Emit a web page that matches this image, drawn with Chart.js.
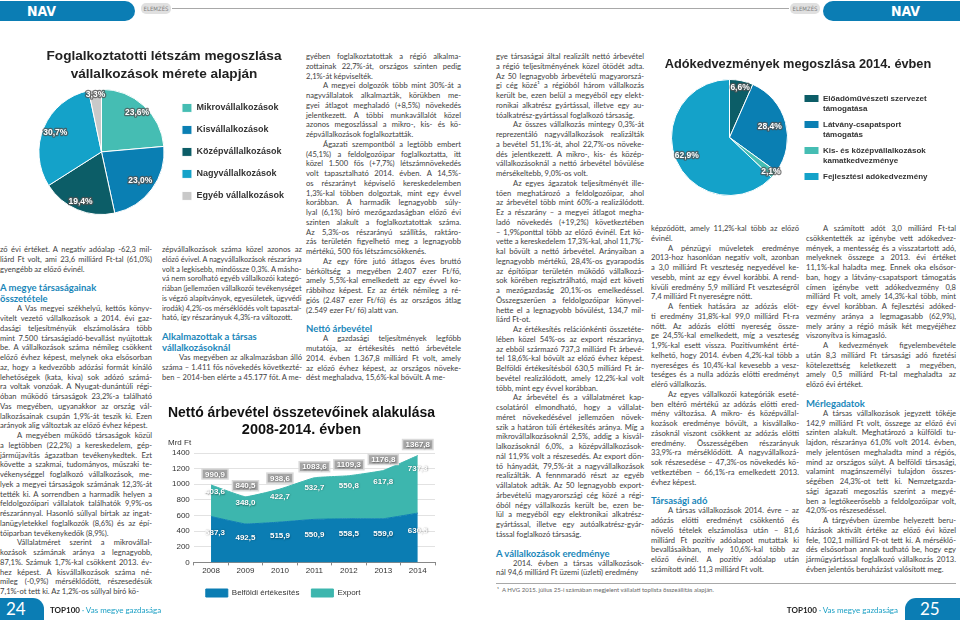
<!DOCTYPE html>
<html lang="hu">
<head>
<meta charset="utf-8">
<title>NAV elemzés – Vas megye gazdasága</title>
<script src="https://cdn.jsdelivr.net/npm/chart.js@4.4.1/dist/chart.umd.min.js"></script>
<style>
html, body { margin: 0; padding: 0; background: #fff; }
body { width: 960px; height: 620px; position: relative; overflow: hidden; font-family: Lato, "Open Sans", sans-serif; color: #3e3e3e; }
.box { position: absolute; }
.tab { position: absolute; background: #0b7db4; color: #fff; font-family: "DejaVu Sans Condensed", "DejaVu Sans", sans-serif; font-weight: bold; }
.tabL { left: 0; top: 1px; width: 135px; height: 20px; border-radius: 0 10px 10px 0; font-size: 14px; line-height: 20px; padding-left: 27px; box-sizing: border-box; }
.tabR { left: 823px; top: 1px; width: 137px; height: 20px; border-radius: 10px 0 0 10px; font-size: 14px; line-height: 20px; padding-left: 68px; box-sizing: border-box; }
.pill { position: absolute; top: 3px; width: 30px; height: 11px; border-radius: 5px; background: #e0e0e0; color: #808080; font: 6px "DejaVu Sans Condensed", sans-serif; line-height: 11px; text-align: center; }
.hline { position: absolute; height: 1px; background: #a8a8a8; }
.col { position: absolute; font-size: 7.6px; line-height: 9.75px; }
.ln { white-space: nowrap; height: 9.75px; }
.ln.just { white-space: normal; text-align: justify; text-align-last: justify; }
.ln.ind { padding-left: 17px; }
.ln.hd { font-weight: 700; color: #1a87ba; font-size: 9.5px; line-height: 11px; height: 11px; }
.ln.gap { margin-top: 8px; }
.foot { position: absolute; top: 605px; font-size: 8px; line-height: 10px; white-space: nowrap; }
.foot b { color: #222; }
.foot i { font-style: normal; color: #1a9fc4; }
.pageno { position: absolute; top: 598px; height: 22px; background: #0b7db4; color: #fff; font-size: 17px; line-height: 22px; }
.note { position: absolute; left: 497px; top: 586px; font-size: 6px; color: #666; white-space: nowrap; }
</style>
</head>
<body>

<div class="tab tabL">NAV</div>
<div class="pill" style="left:141px">ELEMZÉS</div>
<div class="hline" style="left:172px; top:8px; width:617px"></div>
<div class="pill" style="left:790px">ELEMZÉS</div>
<div class="tab tabR">NAV</div>

<div class="box" style="left:20px; top:42px; width:280px; height:198px"><canvas id="letszamChart"></canvas></div>
<div class="box" style="left:160px; top:395px; width:290px; height:212px"><canvas id="arbevetelChart"></canvas></div>
<div class="box" style="left:661px; top:50px; width:274px; height:160px"><canvas id="kedvezmenyChart"></canvas></div>

<div class="hline" style="left:496px; top:583px; width:460px"></div>
<div class="note">¹&nbsp; A HVG 2015. július 25-i számában megjelent vállalati toplista összeállítás alapján.</div>

<div class="pageno" style="left:0; width:44px; border-radius:0 11px 0 0; padding-left:6px; box-sizing:border-box">24</div>
<div class="foot" style="left:50px"><b>TOP100</b> <i>· Vas megye gazdasága</i></div>
<div class="foot" style="right:62px"><b>TOP100</b> <i>· Vas megye gazdasága</i></div>
<div class="pageno" style="left:905px; width:55px; border-radius:11px 0 0 0; padding-left:15px; box-sizing:border-box">25</div>

<script>
// foglalkoztatotti létszám
const meretKategoriak = ['Mikrovállalkozások', 'Kisvállalkozások', 'Középvállalkozások', 'Nagyvállalkozások', 'Egyéb vállalkozások'];
const letszamArany = [23.6, 23.0, 19.4, 30.7, 3.3];
const letszamSzinek = ['#45bdb3', '#0a7fb3', '#0c5d67', '#14a2c9', '#c9c9c9'];

// nettó árbevétel, Mrd Ft
const evek = ['2008', '2009', '2010', '2011', '2012', '2013', '2014'];
const belfoldi = [587.3, 492.5, 515.9, 550.9, 558.5, 559.0, 630.5];
const exportArbevetel = [403.6, 348.0, 422.7, 532.7, 550.8, 617.8, 737.3];
const osszesen = [990.9, 840.5, 938.6, 1083.6, 1109.3, 1176.8, 1367.8];
const yMax = 1400, yLepes = 200;

// adókedvezmények 2014
const kedvezmenyTipusok = [['Előadóművészeti szervezet', 'támogatása'], ['Látvány-csapatsport', 'támogatás'], ['Kis- és középvállalkozások', 'kamatkedvezménye'], 'Fejlesztési adókedvezmény'];
const kedvezmenyArany = [6.6, 28.4, 2.1, 62.9];
const kedvezmenySzinek = ['#0c5d67', '#0a7fb3', '#45bdb3', '#14a2c9'];

const fmt = v => v.toFixed(1).replace('.', ',');

Chart.defaults.font.family = '"Liberation Sans", Arial, sans-serif';
Chart.defaults.color = '#333';

const pieLabels = {
    id: 'pieLabels',
    afterDatasetsDraw(chart, args, opts) {
        const ctx = chart.ctx;
        const meta = chart.getDatasetMeta(0);
        const data = chart.data.datasets[0].data;
        ctx.save();
        ctx.font = 'bold ' + opts.size + 'px "Liberation Sans", Arial, sans-serif';
        ctx.textAlign = 'center'; ctx.textBaseline = 'middle'; ctx.lineJoin = 'round';
        meta.data.forEach((arc, i) => {
            const p = arc.getProps(['x', 'y', 'startAngle', 'endAngle', 'outerRadius'], true);
            const mid = (p.startAngle + p.endAngle) / 2;
            const f = opts.radius[i];
            const x = p.x + Math.cos(mid) * p.outerRadius * f;
            const y = p.y + Math.sin(mid) * p.outerRadius * f;
            const txt = fmt(data[i]) + '%';
            ctx.lineWidth = 2.5; ctx.strokeStyle = 'rgba(80,80,80,0.75)';
            ctx.strokeText(txt, x, y);
            ctx.fillStyle = '#fff'; ctx.fillText(txt, x, y);
        });
        ctx.restore();
    }
};

const areaLabels = {
    id: 'areaLabels',
    afterDatasetsDraw(chart) {
        const ctx = chart.ctx, xs = chart.scales.x, ys = chart.scales.y;
        ctx.save();
        ctx.font = 'bold 8px "Liberation Sans", Arial, sans-serif';
        ctx.textAlign = 'center'; ctx.textBaseline = 'middle';
        const shadowText = (t, x, y) => {
            ctx.shadowColor = 'rgba(0,0,0,0.45)'; ctx.shadowBlur = 1.5; ctx.shadowOffsetX = 0.5; ctx.shadowOffsetY = 0.5;
            ctx.fillStyle = '#fff'; ctx.fillText(t, x, y);
            ctx.shadowColor = 'transparent';
        };
        evek.forEach((ev, i) => {
            const px = xs.getPixelForValue(i) + (i === 0 ? 4 : 0);
            shadowText(fmt(belfoldi[i]), px, ys.getPixelForValue(belfoldi[i] * 0.65));
            shadowText(fmt(exportArbevetel[i]), px, ys.getPixelForValue(belfoldi[i] + exportArbevetel[i] * 0.77));
            const t = fmt(osszesen[i]);
            const ty = ys.getPixelForValue(osszesen[i]) - 11;
            const w = ctx.measureText(t).width + 6;
            ctx.fillStyle = '#a6a6a6'; ctx.fillRect(px - w / 2, ty - 5, w, 10);
            ctx.strokeStyle = '#dadada'; ctx.lineWidth = 1.5; ctx.strokeRect(px - w / 2, ty - 5, w, 10);
            shadowText(t, px, ty + 0.5);
        });
        ctx.restore();
    }
};

new Chart(document.getElementById('letszamChart'), {
    type: 'pie',
    data: { labels: meretKategoriak, datasets: [{ data: letszamArany, backgroundColor: letszamSzinek, borderColor: '#fff', borderWidth: 1 }] },
    options: {
        responsive: true, maintainAspectRatio: false, animation: false,
        layout: { padding: { left: 14, right: 6, top: 0, bottom: 25 } },
        plugins: {
            title: { display: true, text: ['Foglalkoztatotti létszám megoszlása', 'vállalkozások mérete alapján'], color: '#222',
                font: { size: 13.6, weight: 'bold', lineHeight: 1.28 }, padding: { top: 6, bottom: 6 } },
            legend: { position: 'right', fullSize: false,
                labels: { boxWidth: 10, boxHeight: 9, padding: 13, color: '#333', font: { size: 9, weight: 'bold' } } },
            tooltip: { enabled: false },
            pieLabels: { size: 8.5, radius: [0.84, 0.77, 0.87, 0.8, 0.92] }
        }
    },
    plugins: [pieLabels]
});

new Chart(document.getElementById('arbevetelChart'), {
    type: 'line',
    data: {
        labels: evek,
        datasets: [
            { label: 'Belföldi értékesítés', data: belfoldi, backgroundColor: '#0b7db3', borderColor: '#0b7db3', borderWidth: 1, fill: 'origin', pointRadius: 0, tension: 0.1 },
            { label: 'Export', data: exportArbevetel, backgroundColor: '#3db6ae', borderColor: '#3db6ae', borderWidth: 1, fill: '-1', pointRadius: 0, tension: 0.1 }
        ]
    },
    options: {
        responsive: true, maintainAspectRatio: false, animation: false,
        layout: { padding: { left: 8, right: 15, top: 0, bottom: 0 } },
        scales: {
            x: { offset: true, grid: { offset: true, drawOnChartArea: false, tickLength: 3, color: '#888' }, border: { color: '#888' },
                ticks: { font: { size: 8 }, color: '#333', padding: 1 } },
            y: { stacked: true, min: 0, max: yMax,
                ticks: { stepSize: yLepes, font: { size: 8 }, color: '#333', padding: 4, callback: v => String(v) },
                grid: { color: '#e2e2e2', drawTicks: false }, border: { display: false } }
        },
        plugins: {
            title: { display: true, text: ['Nettó árbevétel összetevőinek alakulása', '2008-2014. évben'], color: '#111',
                font: { size: 14.5, weight: 'bold', lineHeight: 1.17 }, padding: { top: 9.5, bottom: 0 } },
            subtitle: { display: true, text: 'Mrd Ft', align: 'start', color: '#333', font: { size: 8 }, padding: { top: 0, bottom: 5 } },
            legend: { position: 'bottom', align: 'start', fullSize: false,
                labels: { boxWidth: 22, boxHeight: 8, padding: 12, color: '#333', font: { size: 8 } } },
            tooltip: { enabled: false }
        }
    },
    plugins: [areaLabels]
});

new Chart(document.getElementById('kedvezmenyChart'), {
    type: 'pie',
    data: { labels: kedvezmenyTipusok, datasets: [{ data: kedvezmenyArany, backgroundColor: kedvezmenySzinek, borderColor: '#fff', borderWidth: 1 }] },
    options: {
        responsive: true, maintainAspectRatio: false, animation: false,
        layout: { padding: { left: 0, right: 0, top: 0, bottom: 14 } },
        plugins: {
            title: { display: true, text: 'Adókedvezmények megoszlása 2014. évben', color: '#222',
                font: { size: 12.75, weight: 'bold', lineHeight: 1.2 }, padding: { top: 7.3, bottom: 6.4 } },
            legend: { position: 'right', fullSize: false,
                labels: { boxWidth: 15, boxHeight: 8, padding: 6, color: '#333', font: { size: 8, weight: 'bold', lineHeight: 1.25 } } },
            tooltip: { enabled: false },
            pieLabels: { size: 8.5, radius: [0.885, 0.72, 0.93, 0.8] }
        }
    },
    plugins: [pieLabels]
});

// szöveghasábok: '>' bekezdés eleje, '#' alcím
const hasab1 = `
ző évi értéket. A negatív adóalap -62,3 mil-
liárd Ft volt, ami 23,6 milliárd Ft-tal (61,0%)
gyengébb az előző évinél.
#A megye társaságainak
#összetétele
>A Vas megyei székhelyű, kettős könyv-
vitelt vezető vállalkozások a 2014. évi gaz-
dasági teljesítményük elszámolására több
mint 7.500 társaságiadó-bevallást nyújtottak
be. A vállalkozások száma némileg csökkent
előző évhez képest, melynek oka elsősorban
az, hogy a kedvezőbb adózási formát kínáló
lehetőségek (kata, kiva) sok adózó számá-
ra voltak vonzóak. A Nyugat-dunántúli régi-
óban működő társaságok 23,2%-a található
Vas megyében, ugyanakkor az ország vál-
lalkozásainak csupán 1,9%-át teszik ki. Ezen
arányok alig változtak az előző évhez képest.
>A megyében működő társaságok közül
a legtöbben (22,2%) a kereskedelem, gép-
járműjavítás ágazatban tevékenykedtek. Ezt
követte a szakmai, tudományos, műszaki te-
vékenységgel foglalkozó vállalkozások, me-
lyek a megyei társaságok számának 12,3%-át
tették ki. A sorrendben a harmadik helyen a
feldolgozóipari vállalatok találhatók 9,9%-os
részaránnyal. Hasonló súllyal bírtak az ingat-
lanügyletekkel foglalkozók (8,6%) és az épí-
tőiparban tevékenykedők (8,9%).
>Vállalatméret szerint a mikrovállal-
kozások számának aránya a legnagyobb,
87,1%. Számuk 1,7%-kal csökkent 2013. év-
hez képest. A kisvállalkozások száma né-
mileg (-0,9%) mérséklődött, részesedésük
7,1%-ot tett ki. Az 1,2%-os súllyal bíró kö-`;

const hasab2 = `
zépvállalkozások száma közel azonos az
előző évivel. A nagyvállalkozások részaránya
volt a legkisebb, mindössze 0,3%. A másho-
vá nem sorolható egyéb vállalkozói kategó-
riában (jellemzően vállalkozói tevékenységet
is végző alapítványok, egyesületek, ügyvédi
irodák) 4,2%-os mérséklődés volt tapasztal-
ható, így részarányuk 4,3%-ra változott.
#Alkalmazottak a társas
#vállalkozásoknál
>Vas megyében az alkalmazásban álló
száma – 1.411 fős növekedés következté-
ben – 2014-ben elérte a 45.177 főt. A me-`;

const hasab3 = `
gyében foglalkoztatottak a régió alkalma-
zottainak 22,7%-át, országos szinten pedig
2,1%-át képviselték.
>A megyei dolgozók több mint 30%-át a
nagyvállalatok alkalmazták, körükben me-
gyei átlagot meghaladó (+8,5%) növekedés
jelentkezett. A többi munkavállalót közel
azonos megoszlással a mikro-, kis- és kö-
zépvállalkozások foglalkoztatták.
>Ágazati szempontból a legtöbb embert
(45,1%) a feldolgozóipar foglalkoztatta, itt
közel 1.500 fős (+7,7%) létszámnövekedés
volt tapasztalható 2014. évben. A 14,5%-
os részarányt képviselő kereskedelemben
1,3%-kal többen dolgoztak, mint egy évvel
korábban. A harmadik legnagyobb súly-
lyal (6,1%) bíró mezőgazdaságban előző évi
szinten alakult a foglalkoztatottak száma.
Az 5,3%-os részarányú szállítás, raktáro-
zás területén figyelhető meg a legnagyobb
mértékű, 500 fős létszámcsökkenés.
>Az egy főre jutó átlagos éves bruttó
bérköltség a megyében 2.407 ezer Ft/fő,
amely 5,5%-kal emelkedett az egy évvel ko-
rábbihoz képest. Ez az érték némileg a ré-
giós (2.487 ezer Ft/fő) és az országos átlag
(2.549 ezer Ft/ fő) alatt van.
#Nettó árbevétel
>A gazdasági teljesítmények legfőbb
mutatója, az értékesítés nettó árbevétele
2014. évben 1.367,8 milliárd Ft volt, amely
az előző évhez képest, az országos növeke-
dést meghaladva, 15,6%-kal bővült. A me-`;

const hasab4 = `
gye társaságai által realizált nettó árbevétel
a régió teljesítményének közel ötödét adta.
Az 50 legnagyobb árbevételű magyarorszá-
gi cég közé¹ a régióból három vállalkozás
került be, ezen belül a megyéből egy elekt-
ronikai alkatrész gyártással, illetve egy au-
tóalkatrész-gyártással foglalkozó társaság.
>Az összes vállalkozás mintegy 0,3%-át
reprezentáló nagyvállalkozások realizálták
a bevétel 51,1%-át, ahol 22,7%-os növeke-
dés jelentkezett. A mikro-, kis- és közép-
vállalkozásoknál a nettó árbevétel bővülése
mérsékeltebb, 9,0%-os volt.
>Az egyes ágazatok teljesítményét ille-
tően meghatározó a feldolgozóipar, ahol
az árbevétel több mint 60%-a realizálódott.
Ez a részarány – a megyei átlagot megha-
ladó növekedés (+19,2%) következtében
– 1,9%ponttal több az előző évinél. Ezt kö-
vette a kereskedelem 17,3%-kal, ahol 11,7%-
kal bővült a nettó árbevétel. Arányaiban a
legnagyobb mértékű, 28,4%-os gyarapodás
az építőipar területén működő vállalkozá-
sok körében regisztrálható, majd ezt követi
a mezőgazdaság 20,1%-os emelkedéssel.
Összegszerűen a feldolgozóipar könyvel-
hette el a legnagyobb bővülést, 134,7 mil-
liárd Ft-ot.
>Az értékesítés relációnkénti összetéte-
lében közel 54%-os az export részaránya,
az ebből származó 737,3 milliárd Ft árbevé-
tel 18,6%-kal bővült az előző évhez képest.
Belföldi értékesítésből 630,5 milliárd Ft ár-
bevétel realizálódott, amely 12,2%-kal volt
több, mint egy évvel korábban.
>Az árbevétel és a vállalatméret kap-
csolatáról elmondható, hogy a vállalat-
méret növekedésével jellemzően növek-
szik a határon túli értékesítés aránya. Míg a
mikrovállalkozásoknál 2,5%, addig a kisvál-
lalkozásoknál 6,0%, a középvállalkozások-
nál 11,9% volt a részesedés. Az export dön-
tő hányadát, 79,5%-át a nagyvállalkozások
realizálták. A fennmaradó részt az egyéb
vállalatok adták. Az 50 legnagyobb export-
árbevételű magyarországi cég közé a régi-
óból négy vállalkozás került be, ezen be-
lül a megyéből egy elektronikai alkatrész-
gyártással, illetve egy autóalkatrész-gyár-
tással foglalkozó társaság.
#A vállalkozások eredménye
>2014. évben a társas vállalkozások-
nál 94,6 milliárd Ft üzemi (üzleti) eredmény`;

const hasab5 = `
képződött, amely 11,2%-kal több az előző
évinél.
>A pénzügyi műveletek eredménye
2013-hoz hasonlóan negatív volt, azonban
a 3,0 milliárd Ft veszteség negyedével ke-
vesebb, mint az egy évvel korábbi. A rend-
kívüli eredmény 5,9 milliárd Ft veszteségről
7,4 milliárd Ft nyereségre nőtt.
>A fentiek hatására az adózás előt-
ti eredmény 31,8%-kal 99,0 milliárd Ft-ra
nőtt. Az adózás előtti nyereség össze-
ge 24,5%-kal emelkedett, míg a veszteség
1,9%-kal esett vissza. Pozitívumként érté-
kelhető, hogy 2014. évben 4,2%-kal több a
nyereséges és 10,4%-kal kevesebb a vesz-
teséges és a nulla adózás előtti eredményt
elérő vállalkozás.
>Az egyes vállalkozói kategóriák eseté-
ben eltérő mértékű az adózás előtti ered-
mény változása. A mikro- és középvállal-
kozások eredménye bővült, a kisvállalko-
zásoknál viszont csökkent az adózás előtti
eredmény. Összességében részarányuk
33,9%-ra mérséklődött. A nagyvállalkozá-
sok részesedése – 47,3%-os növekedés kö-
vetkeztében – 66,1%-ra emelkedett 2013.
évhez képest.
#Társasági adó
>A társas vállalkozások 2014. évre – az
adózás előtti eredményt csökkentő és
növelő tételek elszámolása után – 81,6
milliárd Ft pozitív adóalapot mutattak ki
bevallásaikban, mely 10,6%-kal több az
előző évinél. A pozitív adóalap után
számított adó 11,3 milliárd Ft volt.`;

const hasab6 = `
>A számított adót 3,0 milliárd Ft-tal
csökkentették az igénybe vett adókedvez-
mények, a mentesség és a visszatartott adó,
melyeknek összege a 2013. évi értéket
11,1%-kal haladta meg. Ennek oka elsősor-
ban, hogy a látvány-csapatsport támogatás
címen igénybe vett adókedvezmény 0,8
milliárd Ft volt, amely 14,3%-kal több, mint
egy évvel korábban. A fejlesztési adóked-
vezmény aránya a legmagasabb (62,9%),
mely arány a régió másik két megyéjéhez
viszonyítva is kimagasló.
>A kedvezmények figyelembevétele
után 8,3 milliárd Ft társasági adó fizetési
kötelezettség keletkezett a megyében,
amely 0,5 milliárd Ft-tal meghaladta az
előző évi értéket.
#Mérlegadatok
>A társas vállalkozások jegyzett tőkéje
142,9 milliárd Ft volt, összege az előző évi
szinten alakult. Meghatározó a külföldi tu-
lajdon, részaránya 61,0% volt 2014. évben,
mely jelentősen meghaladta mind a régiós,
mind az országos súlyt. A belföldi társasági,
valamint magánszemélyi tulajdon összes-
ségében 24,3%-ot tett ki. Nemzetgazda-
sági ágazati megoszlás szerint a megyé-
ben a legtőkeerősebb a feldolgozóipar volt,
42,0%-os részesedéssel.
>A tárgyévben üzembe helyezett beru-
házások aktivált értéke az előző évi közel
fele, 102,1 milliárd Ft-ot tett ki. A mérséklő-
dés elsősorban annak tudható be, hogy egy
járműgyártással foglalkozó vállalkozás 2013.
évben jelentős beruházást valósított meg.`;

function buildColumn(x, y, w, text) {
    const col = document.createElement('div');
    col.className = 'col';
    col.style.left = x + 'px'; col.style.top = y + 'px'; col.style.width = w + 'px';
    document.body.appendChild(col);
    const lines = text.trim().split('\n');
    lines.forEach((raw, i) => {
        let t = raw, cls = 'ln';
        const head = t[0] === '#', ind = t[0] === '>';
        if (head) { cls += ' hd'; t = t.slice(1); if (i > 0 && lines[i - 1][0] !== '#') cls += ' gap'; }
        else if (ind) { cls += ' ind'; t = t.slice(1); }
        const nx = lines[i + 1];
        const endPara = !nx || nx[0] === '#' || nx[0] === '>';
        const d = document.createElement('div');
        d.className = cls;
        const s = document.createElement('span');
        s.textContent = t;
        d.appendChild(s);
        col.appendChild(d);
        const avail = w - (ind ? 17 : 0);
        const natural = s.getBoundingClientRect().width;
        if (natural > avail - 0.5) {
            s.style.display = 'inline-block';
            s.style.transformOrigin = '0 50%';
            s.style.transform = 'scaleX(' + ((avail - 0.5) / natural) + ')';
        } else if (!endPara && !head) {
            d.classList.add('just');
        }
    });
}

buildColumn(0, 245, 152, hasab1);
buildColumn(162, 245, 140, hasab2);
buildColumn(306, 52, 155, hasab3);
buildColumn(496, 52, 148, hasab4);
buildColumn(651, 224, 148, hasab5);
buildColumn(806, 224, 150, hasab6);
</script>
</body>
</html>
